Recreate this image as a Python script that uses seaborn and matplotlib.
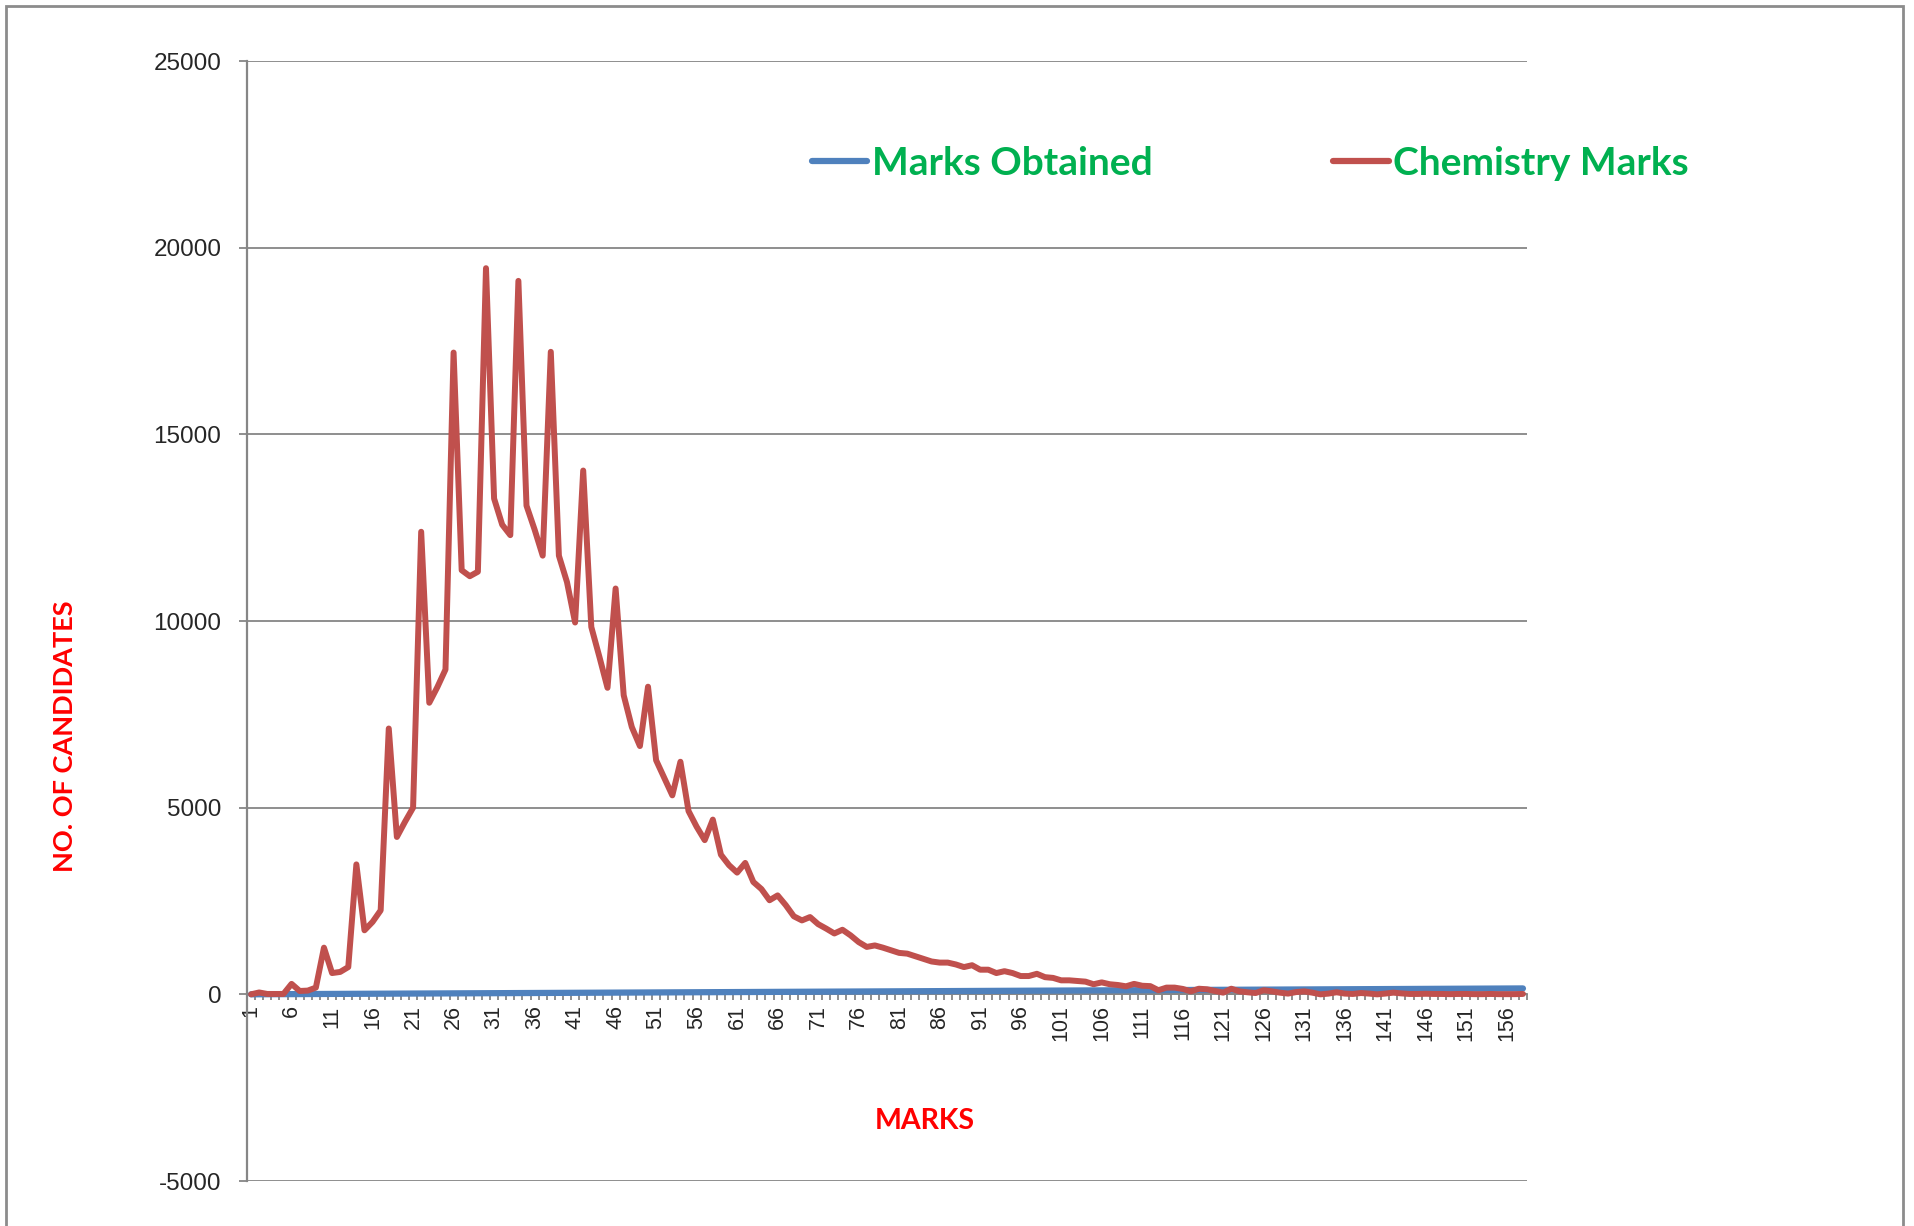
import matplotlib
matplotlib.use("Agg")
import matplotlib.pyplot as plt
import seaborn as sns
import pandas as pd
from matplotlib.lines import Line2D
from matplotlib.patches import Rectangle
from matplotlib.ticker import FixedLocator

# ---------------- data ----------------
marks = list(range(1, 159))          # categories (MARKS 1..158)
marks_obtained = list(range(1, 159))  # "Marks Obtained" series = the mark itself
chemistry_marks = [
    0, 50, 10, 10, 10, 280, 90, 100, 180, 1250,
    570, 600, 730, 3480, 1715, 1940, 2250, 7120, 4215, 4620,
    5000, 12390, 7810, 8230, 8700, 17190, 11360, 11200, 11320, 19450,
    13280, 12580, 12300, 19110, 13090, 12450, 11750, 17210, 11750, 11040,
    9960, 14030, 9840, 9040, 8210, 10870, 8010, 7160, 6650, 8240,
    6270, 5800, 5330, 6230, 4910, 4490, 4130, 4680, 3740, 3460,
    3260, 3520, 3010, 2820, 2520, 2650, 2390, 2090, 1980, 2070,
    1880, 1760, 1630, 1730, 1580, 1400, 1270, 1310, 1250, 1180,
    1110, 1090, 1020, 950, 880, 850, 850, 800, 730, 780,
    660, 660, 570, 620, 570, 490, 490, 550, 460, 440,
    375, 375, 357, 340, 270, 320, 270, 250, 215, 280,
    230, 220, 110, 180, 180, 145, 80, 150, 135, 90,
    45, 150, 80, 55, 35, 110, 80, 45, 20, 60,
    80, 45, 0, 20, 55, 20, 10, 35, 20, 0,
    20, 45, 25, 10, 10, 15, 10, 10, 5, 10,
    10, 5, 5, 10, 5, 5, 5, 10,
]
series_names = ["Marks Obtained", "Chemistry Marks"]
y_ticks = [-5000, 0, 5000, 10000, 15000, 20000, 25000]
x_label_marks = list(range(1, 159, 5))

df = pd.DataFrame({"mark": marks, "obtained": marks_obtained, "chem": chemistry_marks})

# ---------------- style ----------------
sns.set_theme(style="white")
plt.rcParams["font.family"] = ["Liberation Sans", "DejaVu Sans"]

BLUE = "#4F81BD"
RED = "#C0504D"
GREEN = "#00B050"
GRID = "#868686"

W, H = 1914, 1226
fig = plt.figure(figsize=(W / 100, H / 100), dpi=100)
ax = fig.add_axes([247 / W, 1 - 1181 / H, (1527 - 247) / W, (1181 - 61) / H])

sns.lineplot(data=df, x="mark", y="obtained", ax=ax, color=BLUE, lw=4.5, zorder=3)
sns.lineplot(data=df, x="mark", y="chem", ax=ax, color=RED, lw=4.3, zorder=4)

ax.set_xlim(0.5, len(marks) + 0.5)
ax.set_ylim(-5000, 25000)

# y axis
ax.set_yticks(y_ticks)
ax.set_yticklabels([str(v) for v in y_ticks])
ax.yaxis.grid(True, color=GRID, lw=1.3)
ax.tick_params(axis="y", which="major", direction="out", length=5.5, width=1.3,
               color=GRID, labelsize=17.5, pad=13, left=True)

# x axis at y=0
ax.spines["bottom"].set_position(("data", 0))
ax.spines["bottom"].set_color(GRID)
ax.spines["bottom"].set_linewidth(1.3)
ax.spines["left"].set_color(GRID)
ax.spines["left"].set_linewidth(1.6)
ax.spines["top"].set_visible(False)
ax.spines["right"].set_visible(False)

ax.xaxis.set_major_locator(FixedLocator(x_label_marks))
ax.set_xticklabels([str(m) for m in x_label_marks], rotation=90)
ax.xaxis.set_minor_locator(FixedLocator([m + 0.5 for m in [0] + marks]))
ax.tick_params(axis="x", which="major", length=0, labelsize=15.5, pad=8, bottom=True)
ax.tick_params(axis="x", which="minor", direction="out", length=4, width=1.3,
               color=GRID, bottom=True)
for lbl in ax.get_xticklabels():
    lbl.set_va("top")

ax.set_xlabel("")
ax.set_ylabel("")

# axis titles
fig.text(925 / W, 1 - 1121 / H, "MARKS", color="#FF0000", fontsize=20.5,
         fontweight="bold", family=["Lato", "DejaVu Sans"], ha="center", va="center")
fig.text(65 / W, 1 - 736 / H, "NO. OF CANDIDATES", color="#FF0000", fontsize=19.5,
         fontweight="bold", family=["Lato", "DejaVu Sans"], rotation=90,
         ha="center", va="center")

# legend
handles = [Line2D([0], [0], color=BLUE, lw=4.5, solid_capstyle="round"),
           Line2D([0], [0], color=RED, lw=4.5, solid_capstyle="round")]
leg = fig.legend(handles, series_names, ncol=2, loc="center left",
                 bbox_to_anchor=(812 / W, 1 - 163.5 / H), frameon=False,
                 borderpad=0, borderaxespad=0, handlelength=1.42,
                 handletextpad=0.12, columnspacing=4.65,
                 prop={"family": ["Lato", "DejaVu Sans"], "weight": "bold", "size": 28})
for t in leg.get_texts():
    t.set_color(GREEN)

# outer chart border
fig.patches.append(Rectangle((6 / W, -0.02), (1903 - 6) / W, 1.02 - 6 / H,
                             transform=fig.transFigure, fill=False,
                             edgecolor="#8C8C8C", lw=2))

fig.savefig("out.png", dpi=100, facecolor="white")
